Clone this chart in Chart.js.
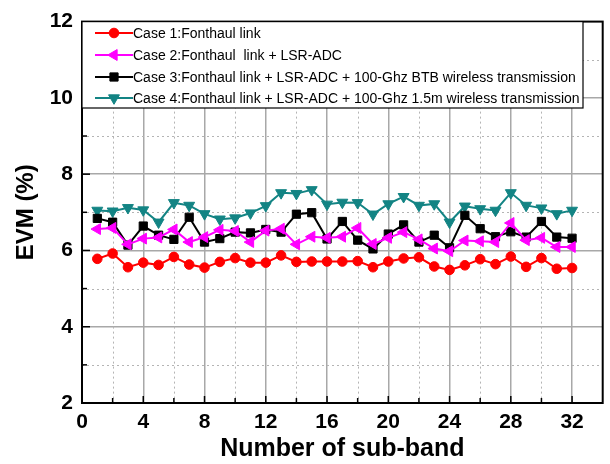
<!DOCTYPE html>
<html>
<head>
<meta charset="utf-8">
<script src="https://cdn.jsdelivr.net/npm/chart.js@4/dist/chart.umd.min.js"></script>
<style>
  html, body { margin: 0; padding: 0; background: #fff; }
  #wrap { width: 610px; height: 464px; }
</style>
</head>
<body>
<div id="wrap"><canvas id="evmChart" width="610" height="464"></canvas></div>
<script>
const subBands = [1, 2, 3, 4, 5, 6, 7, 8, 9, 10, 11, 12, 13, 14, 15, 16,
  17, 18, 19, 20, 21, 22, 23, 24, 25, 26, 27, 28, 29, 30, 31, 32];

const case1 = [5.78, 5.92, 5.56, 5.68, 5.62, 5.83, 5.63, 5.55, 5.70, 5.80, 5.68, 5.68, 5.87, 5.70, 5.71, 5.71,
  5.71, 5.72, 5.56, 5.71, 5.79, 5.82, 5.58, 5.49, 5.61, 5.77, 5.64, 5.84, 5.57, 5.80, 5.52, 5.54];
const case2 = [6.56, 6.59, 6.16, 6.31, 6.34, 6.55, 6.22, 6.35, 6.54, 6.51, 6.22, 6.52, 6.57, 6.16, 6.36, 6.33,
  6.36, 6.59, 6.17, 6.33, 6.48, 6.29, 6.05, 5.98, 6.26, 6.24, 6.22, 6.72, 6.27, 6.33, 6.09, 6.09];
const case3 = [6.84, 6.74, 6.14, 6.64, 6.40, 6.29, 6.87, 6.22, 6.31, 6.48, 6.46, 6.55, 6.48, 6.95, 6.99, 6.30,
  6.76, 6.27, 6.04, 6.43, 6.67, 6.22, 6.40, 6.07, 6.92, 6.57, 6.36, 6.49, 6.35, 6.76, 6.35, 6.32];
const case4 = [7.05, 7.03, 7.12, 7.06, 6.74, 7.25, 7.18, 6.96, 6.82, 6.85, 6.98, 7.17, 7.51, 7.49, 7.59, 7.21,
  7.26, 7.25, 6.95, 7.22, 7.41, 7.18, 7.22, 6.74, 7.16, 7.09, 7.05, 7.51, 7.18, 7.11, 6.96, 7.05];

const seriesLabels = [
  'Case 1:Fonthaul link',
  'Case 2:Fonthaul  link + LSR-ADC',
  'Case 3:Fonthaul link + LSR-ADC + 100-Ghz BTB wireless transmission',
  'Case 4:Fonthaul link + LSR-ADC + 100-Ghz 1.5m wireless transmission'
];

const xTickLabels = [0, 4, 8, 12, 16, 20, 24, 28, 32];
const yTickLabels = [2, 4, 6, 8, 10, 12];

const FONT = '"Liberation Sans", Arial, sans-serif';

function toPoints(values) {
  return subBands.map((x, i) => ({ x, y: values[i] }));
}

function lineSet(label, values, color, style, radius, rotation) {
  return {
    label,
    data: toPoints(values),
    borderColor: color,
    backgroundColor: color,
    borderWidth: 2,
    pointStyle: style,
    pointRadius: radius,
    pointRotation: rotation,
    pointBorderWidth: 1,
    tension: 0
  };
}

// minor dotted grid, inward ticks, frame and the boxed legend
const framePlugin = {
  id: 'frame',
  beforeDatasetsDraw(chart) {
    const { ctx, chartArea: a, scales: { x, y } } = chart;
    ctx.save();
    ctx.strokeStyle = '#b4b4b4';
    ctx.lineWidth = 1;
    ctx.setLineDash([2, 3]);
    for (let v = 2; v < 34; v += 4) {
      const px = Math.round(x.getPixelForValue(v)) + 0.5;
      ctx.beginPath(); ctx.moveTo(px, a.top); ctx.lineTo(px, a.bottom); ctx.stroke();
    }
    for (let v = 3; v < 12; v += 2) {
      const py = Math.round(y.getPixelForValue(v)) + 0.5;
      ctx.beginPath(); ctx.moveTo(a.left, py); ctx.lineTo(a.right, py); ctx.stroke();
    }
    ctx.restore();
  },
  afterDatasetsDraw(chart) {
    const { ctx, chartArea: a, scales: { x, y } } = chart;
    ctx.save();
    ctx.strokeStyle = '#000';
    ctx.lineWidth = 1.5;
    for (let v = 2; v < 34; v += 2) {
      const px = x.getPixelForValue(v);
      const len = v % 4 === 0 ? 7 : 5;
      ctx.beginPath(); ctx.moveTo(px, a.bottom); ctx.lineTo(px, a.bottom - len); ctx.stroke();
    }
    for (let v = 3; v < 12; v += 1) {
      const py = y.getPixelForValue(v);
      const len = v % 2 === 0 ? 8 : 5;
      ctx.beginPath(); ctx.moveTo(a.left, py); ctx.lineTo(a.left + len, py); ctx.stroke();
    }
    ctx.lineWidth = 2;
    ctx.strokeRect(a.left, a.top, a.right - a.left, a.bottom - a.top);

    // legend box
    const box = { left: a.left, top: a.top, right: 583, bottom: 108 };
    ctx.fillStyle = '#fff';
    ctx.fillRect(box.left, box.top, box.right - box.left, box.bottom - box.top);
    ctx.lineWidth = 1.2;
    ctx.strokeRect(box.left, box.top, box.right - box.left, box.bottom - box.top);
    const rows = [33, 55, 77, 98];
    ctx.font = '14px ' + FONT;
    ctx.textBaseline = 'middle';
    chart.data.datasets.forEach((ds, i) => {
      const ry = rows[i];
      ctx.strokeStyle = ds.borderColor;
      ctx.lineWidth = 2;
      ctx.beginPath(); ctx.moveTo(95, ry); ctx.lineTo(133, ry); ctx.stroke();
      ctx.fillStyle = ds.backgroundColor;
      ctx.strokeStyle = ds.borderColor;
      ctx.lineWidth = 1;
      Chart.helpers.drawPoint(ctx, {
        pointStyle: ds.pointStyle,
        radius: ds.pointRadius,
        rotation: ds.pointRotation,
        borderWidth: 1
      }, 114, ry);
      ctx.fillStyle = '#000';
      ctx.fillText(ds.label, 133, ry + 1);
    });
    ctx.restore();
  }
};

new Chart(document.getElementById('evmChart'), {
  type: 'line',
  data: {
    datasets: [
      lineSet(seriesLabels[0], case1, '#ff0000', 'circle', 4.8, 0),
      lineSet(seriesLabels[1], case2, '#ff00ff', 'triangle', 6.3, -90),
      lineSet(seriesLabels[2], case3, '#000000', 'rect', 5.8, 0),
      lineSet(seriesLabels[3], case4, '#138484', 'triangle', 6.3, 180)
    ]
  },
  options: {
    responsive: false,
    animation: false,
    layout: { padding: { top: 19, right: 5, left: 0, bottom: 0 } },
    plugins: { legend: { display: false }, tooltip: { enabled: false } },
    scales: {
      x: {
        type: 'linear',
        min: 0,
        max: 34,
        afterFit: (s) => { s.height = 61; },
        afterBuildTicks: (s) => {
          s.ticks = [];
          for (let v = 0; v <= 34; v += 2) s.ticks.push({ value: v });
        },
        ticks: {
          autoSkip: false,
          maxRotation: 0,
          padding: 7,
          color: '#000',
          font: { family: FONT, size: 21, weight: 'bold' },
          callback: (v) => (xTickLabels.includes(v) ? String(v) : '')
        },
        grid: {
          drawTicks: false,
          color: (c) => (c.tick && c.tick.value % 4 === 0 && c.tick.value > 0 && c.tick.value < 34 ? '#a8a8a8' : 'rgba(0,0,0,0)'),
          lineWidth: 1.5
        },
        border: { display: false },
        title: {
          display: true,
          text: 'Number of sub-band',
          color: '#000',
          font: { family: FONT, size: 25, weight: 'bold' },
          padding: { top: 0, bottom: 0 }
        }
      },
      y: {
        min: 2,
        max: 12,
        afterFit: (s) => { s.width = 82; },
        afterBuildTicks: (s) => {
          s.ticks = [];
          for (let v = 2; v <= 12; v += 1) s.ticks.push({ value: v });
        },
        ticks: {
          autoSkip: false,
          padding: 9,
          color: '#000',
          font: { family: FONT, size: 21, weight: 'bold' },
          callback: (v) => (yTickLabels.includes(v) ? String(v) : '')
        },
        grid: {
          drawTicks: false,
          color: (c) => (c.tick && c.tick.value % 2 === 0 && c.tick.value > 2 && c.tick.value < 12 ? '#a8a8a8' : 'rgba(0,0,0,0)'),
          lineWidth: 1.5
        },
        border: { display: false },
        title: {
          display: true,
          text: 'EVM (%)',
          color: '#000',
          font: { family: FONT, size: 24, weight: 'bold' },
          padding: { top: 12, bottom: 0 }
        }
      }
    }
  },
  plugins: [framePlugin]
});
</script>
</body>
</html>
